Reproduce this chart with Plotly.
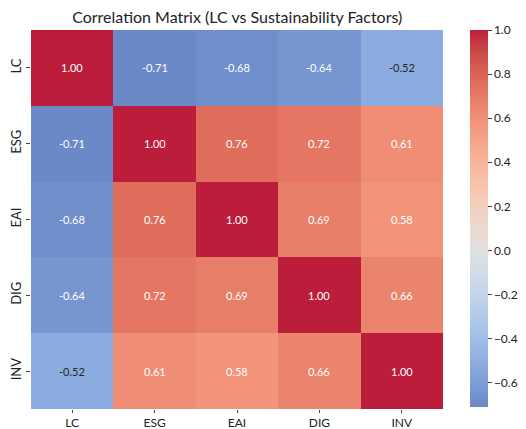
import plotly.graph_objects as go
import numpy as np

labels = ["LC", "ESG", "EAI", "DIG", "INV"]
row_LC = [1.00, -0.71, -0.68, -0.64, -0.52]
row_ESG = [-0.71, 1.00, 0.76, 0.72, 0.61]
row_EAI = [-0.68, 0.76, 1.00, 0.69, 0.58]
row_DIG = [-0.64, 0.72, 0.69, 1.00, 0.66]
row_INV = [-0.52, 0.61, 0.58, 0.66, 1.00]
z = [row_LC, row_ESG, row_EAI, row_DIG, row_INV]
cb_ticks = [1.0, 0.8, 0.6, 0.4, 0.2, 0.0, -0.2, -0.4, -0.6]

# matplotlib coolwarm (Moreland) table
cw = [(59,76,192),(68,90,204),(77,104,215),(87,117,225),(98,130,234),(108,142,241),
      (119,154,247),(130,165,251),(141,176,254),(152,185,255),(163,194,255),(174,201,253),
      (184,208,249),(194,213,244),(204,217,238),(213,219,230),(221,221,221),(229,216,209),
      (236,211,197),(241,204,185),(245,196,173),(247,187,160),(247,177,148),(247,166,135),
      (244,154,123),(241,141,111),(236,127,99),(229,112,88),(222,96,77),(213,80,66),
      (203,62,56),(192,40,47),(180,4,38)]
cw = np.array(cw, dtype=float)
tpos = np.linspace(0, 1, len(cw))

zmin, zmax = -0.71, 1.0
def cmap(v):
    t = (v + 1) / 2  # centered at 0, symmetric range
    c = np.array([np.interp(t, tpos, cw[:, k]) for k in range(3)])
    c = 0.9 * c + 0.1 * 255
    if v < 0:
        f = min(1, -v / 0.71)
        c[2] = c[2] - 42 * f
        c[0] = c[0] - 12 * f
        c[1] = c[1] - 12 * f
    return "rgb(%d,%d,%d)" % tuple(np.clip(c, 0, 255))

vals = np.linspace(zmin, zmax, 40)
colorscale = [[(v - zmin) / (zmax - zmin), cmap(v)] for v in vals]

fig = go.Figure()
fig.add_trace(go.Heatmap(
    z=z, x=labels, y=labels, zmin=zmin, zmax=zmax, colorscale=colorscale,
    xgap=0, ygap=0, hoverinfo="skip",
    colorbar=dict(thickness=18, len=0.995, lenmode="fraction", y=1, yanchor="top",
                  x=1, xanchor="left", xpad=27, ypad=0, outlinewidth=0,
                  tickvals=cb_ticks, ticktext=[f"{t:.1f}".replace("-", "−") for t in cb_ticks],
                  ticks="outside", ticklen=4, tickcolor="#444", tickwidth=1,
                  tickfont=dict(size=12, color="#222")),
))

for i, r in enumerate(labels):
    for j, c in enumerate(labels):
        v = z[i][j]
        fig.add_annotation(x=c, y=r, text=f"{v:.2f}", showarrow=False,
                           font=dict(size=11, color="#262626" if abs(v) < 0.55 else "white"))

fig.update_layout(
    width=526, height=429,
    margin=dict(l=31, r=83, t=30, b=20, autoexpand=False),
    paper_bgcolor="white", plot_bgcolor="white",
    font=dict(family="Lato, Open Sans, sans-serif", color="#222"),
    title=dict(text="Correlation Matrix (LC vs Sustainability Factors)", x=0.451, xanchor="center",
               y=0.96, yanchor="middle", font=dict(size=16, color="#222")),
)
fig.update_xaxes(ticks="outside", ticklen=3, tickcolor="#444", tickfont=dict(size=12),
                 showgrid=False, zeroline=False, showline=False, automargin=False)
fig.update_yaxes(autorange="reversed", ticks="outside", ticklen=4, tickcolor="#444",
                 tickangle=-90, tickfont=dict(size=13), showgrid=False, zeroline=False,
                 showline=False, automargin=False)

fig.write_html("out.html", config={"displayModeBar": False},
               post_script="document.body.style.margin='0';document.body.style.overflow='hidden';")
